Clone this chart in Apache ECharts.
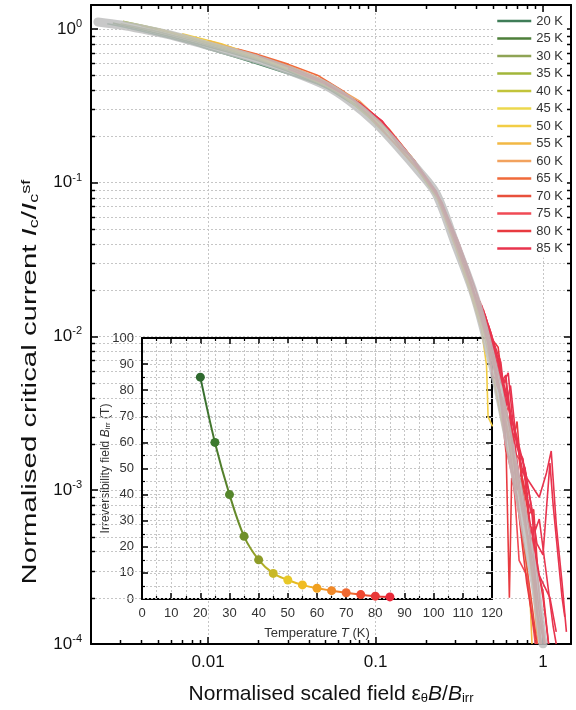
<!DOCTYPE html>
<html><head><meta charset="utf-8">
<script src="https://cdn.jsdelivr.net/npm/echarts@6/dist/echarts.min.js"></script>
<style>html,body{margin:0;padding:0;background:#fff}#c{width:576px;height:710px}</style>
</head><body><div id="c"></div>
<script>
// ---------- data ----------
const tempNames = ['20 K','25 K','30 K','35 K','40 K','45 K','50 K','55 K','60 K','65 K','70 K','75 K','80 K','85 K'];
const tempColors = ['#3f7d58','#4e7f3a','#8fa455','#a2b63a','#c2c43a','#ecd84e','#f2cd45','#f2b845','#f2a25e','#f06a3a','#e8503c','#f04a55','#e83a40','#e8344e'];

const t20 = [[0.0025,1.08],[0.003,1.04],[0.004,0.97],[0.006,0.87],[0.008,0.8],[0.01,0.74],[0.015,0.65],[0.02,0.59],[0.03,0.51],[0.045,0.44],[0.06,0.38],[0.08,0.31]];
const t25 = [[0.0027,1.09],[0.004,0.99],[0.006,0.89],[0.009,0.79],[0.013,0.71],[0.02,0.62],[0.03,0.53],[0.05,0.42],[0.075,0.32],[0.1,0.25]];
const t30 = [[0.003,1.08],[0.005,0.96],[0.008,0.84],[0.012,0.74],[0.02,0.63],[0.03,0.54],[0.05,0.43],[0.08,0.31],[0.12,0.21],[0.15,0.16]];
const t35 = [[0.0031,1.12],[0.005,1.0],[0.008,0.87],[0.012,0.77],[0.02,0.65],[0.03,0.56],[0.05,0.44],[0.08,0.32],[0.12,0.21],[0.17,0.13],[0.22,0.09],[0.27,0.058]];
const t40 = [[0.004,1.05],[0.006,0.94],[0.01,0.8],[0.016,0.69],[0.025,0.59],[0.04,0.48],[0.06,0.39],[0.09,0.27],[0.13,0.18],[0.18,0.12],[0.24,0.075],[0.3,0.04],[0.36,0.022]];
const t45 = [[0.005,1.0],[0.008,0.88],[0.012,0.78],[0.02,0.65],[0.03,0.55],[0.05,0.44],[0.08,0.32],[0.12,0.21],[0.17,0.135],[0.23,0.085],[0.3,0.039],[0.37,0.02],[0.42,0.013]];
const t50 = [[0.007,0.93],[0.012,0.8],[0.02,0.66],[0.03,0.56],[0.05,0.45],[0.08,0.33],[0.12,0.22],[0.17,0.14],[0.23,0.083],[0.3,0.038],[0.37,0.019],[0.43,0.011],[0.46,0.0065],[0.465,0.0045],[0.47,0.003],[0.5,0.0026]];
const t55 = [[0.01,0.84],[0.02,0.67],[0.03,0.57],[0.05,0.45],[0.08,0.33],[0.12,0.22],[0.17,0.14],[0.23,0.085],[0.3,0.039],[0.38,0.019],[0.44,0.011],[0.5,0.0058],[0.56,0.003],[0.63,0.0016],[0.72,0.0007],[0.8,0.00032],[0.84,0.00018],[0.86,0.0001]];
const t60 = [[0.013,0.76],[0.02,0.67],[0.03,0.58],[0.05,0.46],[0.08,0.34],[0.12,0.225],[0.17,0.14],[0.23,0.085],[0.3,0.04],[0.38,0.02],[0.45,0.011],[0.53,0.0052],[0.61,0.0025],[0.7,0.0011],[0.8,0.0005],[0.88,0.00022],[0.93,0.0001]];
const t65 = [[0.015,0.74],[0.02,0.68],[0.03,0.59],[0.045,0.5],[0.065,0.39],[0.09,0.28],[0.13,0.18],[0.18,0.122],[0.23,0.086],[0.3,0.041],[0.38,0.02],[0.45,0.0115],[0.53,0.0055],[0.62,0.0024],[0.72,0.001],[0.82,0.00045],[0.9,0.0002],[0.96,0.0001]];
const t70 = [[0.02,0.67],[0.03,0.57],[0.05,0.45],[0.08,0.33],[0.12,0.22],[0.17,0.14],[0.23,0.088],[0.3,0.043],[0.37,0.023],[0.44,0.0125],[0.51,0.0065],[0.58,0.0035],[0.62,0.0028],[0.7,0.0013],[0.78,0.00065],[0.86,0.0003],[0.93,0.00015],[0.98,0.0001]];
const t75 = [[0.03,0.55],[0.05,0.44],[0.08,0.33],[0.12,0.22],[0.16,0.15],[0.2,0.105],[0.24,0.078],[0.28,0.05],[0.32,0.034],[0.37,0.022],[0.42,0.014],[0.47,0.009],[0.52,0.0068],[0.55,0.0045],[0.6,0.0032],[0.63,0.0036],[0.67,0.0018],[0.72,0.0016],[0.78,0.0008],[0.84,0.0005],[0.9,0.00042],[0.96,0.00018],[1.03,0.0001]];
const t80 = [[0.05,0.44],[0.08,0.33],[0.11,0.25],[0.14,0.17],[0.17,0.14],[0.21,0.1],[0.25,0.074],[0.29,0.048],[0.34,0.03],[0.39,0.019],[0.44,0.013],[0.49,0.0095],[0.53,0.0075],[0.57,0.0048],[0.6,0.0052],[0.65,0.0024],[0.7,0.0021],[0.76,0.0011],[0.82,0.0007],[0.88,0.00075],[0.93,0.0003],[1.0,0.00022],[1.08,0.0001]];
const t85 = [[0.08,0.33],[0.11,0.25],[0.15,0.165],[0.19,0.115],[0.23,0.088],[0.27,0.06],[0.31,0.042],[0.36,0.027],[0.41,0.018],[0.46,0.012],[0.5,0.0088],[0.54,0.0072],[0.58,0.005],[0.62,0.0058],[0.66,0.0028],[0.72,0.0018],[0.78,0.0014],[0.85,0.0008],[0.92,0.00045],[1.0,0.00038],[1.1,0.0015],[1.15,0.0008],[1.3,0.0002],[1.35,0.00015]];
// additional sample orientations at high temperature (same legend entries)
const r75a = [[0.4,0.019],[0.45,0.012],[0.5,0.0075],[0.53,0.0048],[0.58,0.0038],[0.6,0.0019],[0.66,0.0012],[0.7,0.0015],[0.75,0.00075],[0.82,0.00048],[0.86,0.00058],[0.9,0.00024],[0.96,0.0001]];
const r80a = [[0.42,0.017],[0.47,0.011],[0.52,0.0068],[0.55,0.0072],[0.6,0.0034],[0.64,0.0025],[0.7,0.001],[0.74,0.0012],[0.8,0.00055],[0.88,0.0003],[0.92,0.00016],[1.0,0.00011]];
const r85a = [[0.43,0.016],[0.49,0.0105],[0.55,0.0062],[0.6,0.0044],[0.68,0.0023],[0.75,0.0014],[0.82,0.001],[0.9,0.00055],[0.95,0.00065],[1.05,0.00028],[1.15,0.00013],[1.2,0.0001]];
const r85b = [[0.45,0.014],[0.5,0.009],[0.56,0.005],[0.6,0.0056],[0.64,0.0028],[0.68,0.002],[0.72,0.0012],[0.78,0.0014],[0.83,0.00065],[0.9,0.0004],[1.0,0.0002],[1.08,0.0001]];
const r80b = [[0.44,0.015],[0.5,0.0095],[0.54,0.0085],[0.58,0.0045],[0.62,0.0042],[0.66,0.002],[0.7,0.0028],[0.74,0.0013],[0.8,0.0009],[0.85,0.0004],[0.88,0.00035],[0.95,0.00016],[1.02,0.0001]];
const r85c = [[0.47,0.012],[0.52,0.0085],[0.56,0.0068],[0.6,0.0035],[0.64,0.0048],[0.7,0.0019],[0.76,0.0016],[0.8,0.0009],[0.86,0.0007],[0.92,0.0003],[1.1,0.0002],[1.2,0.00012]];
const r75b = [[0.42,0.015],[0.46,0.0105],[0.5,0.0055],[0.54,0.0052],[0.58,0.0026],[0.6,0.0018],[0.64,0.0016],[0.68,0.0009],[0.72,0.00035],[0.8,0.00028],[0.86,0.00015],[0.9,0.0001]];
const r70a = [[0.4,0.018],[0.45,0.0115],[0.5,0.0068],[0.54,0.005],[0.58,0.0033],[0.63,0.0019],[0.68,0.0011],[0.74,0.0006],[0.8,0.00032],[0.86,0.00018],[0.92,0.0001]];
const r85d = [[0.55,0.006],[0.62,0.0035],[0.7,0.0022],[0.8,0.0012],[0.95,0.0009],[1.05,0.0013],[1.12,0.0018],[1.2,0.0006],[1.3,0.00025],[1.38,0.00012]];
const r80c = [[0.5,0.0075],[0.56,0.004],[0.6,0.0022],[0.63,0.0002],[0.65,0.0012],[0.7,0.0009],[0.76,0.0004],[0.8,0.00025],[0.88,0.00013],[0.92,0.0001]];

const master = [[0.0022,1.11],[0.003,1.06],[0.004,1.0],[0.006,0.91],[0.01,0.78],[0.015,0.69],[0.02,0.63],[0.03,0.54],[0.05,0.43],[0.07,0.34],[0.1,0.245],[0.14,0.165],[0.18,0.12],[0.23,0.085],[0.3,0.04],[0.38,0.02],[0.44,0.0115],[0.53,0.005],[0.61,0.0024],[0.7,0.0011],[0.8,0.0005],[0.9,0.00024],[0.97,0.00013],[1.0,0.0001]];

const insetT = [20,25,30,35,40,45,50,55,60,65,70,75,80,85];
const insetB = [85,60,40,24,15,9.8,7.3,5.4,4.1,3.2,2.4,1.7,1.1,0.8];
const insetColors = ['#2f6a2f','#3d7a2e','#55862c','#6f902a','#8e9c28','#c8b828','#e8c828','#f0bc22','#f0a020','#f08828','#f06830','#f04830','#e83838','#e82838'];

const yMinor = [2e-4,3e-4,4e-4,5e-4,6e-4,7e-4,8e-4,9e-4,2e-3,3e-3,4e-3,5e-3,6e-3,7e-3,8e-3,9e-3,0.02,0.03,0.04,0.05,0.06,0.07,0.08,0.09,0.2,0.3,0.4,0.5,0.6,0.7,0.8,0.9];
const xMinor = [0.003,0.004,0.005,0.006,0.007,0.008,0.009,0.02,0.03,0.04,0.05,0.06,0.07,0.08,0.09,0.2,0.3,0.4,0.5,0.6,0.7,0.8,0.9];
const xTickText = {'-2': '0.01', '-1': '0.1', '0': '1'};

// ---------- chart ----------
const FONT = '"Liberation Sans", Arial, sans-serif';
const chart = echarts.init(document.getElementById('c'), null, {renderer: 'canvas'});

const isPow10 = v => Math.abs(Math.log10(v) - Math.round(Math.log10(v))) < 1e-6;
const dotted = {color: '#c6c6c6', width: 1, type: [2, 2]};

function minorRender(params, api) {
  const cs = params.coordSys;
  const kind = api.value(2);
  const ch = [];
  const gs = {stroke: '#c6c6c6', lineWidth: 1, lineDash: [2, 2]};
  const ts = {stroke: '#000', lineWidth: 1.5};
  if (kind === 0) {
    const y = Math.round(api.coord([1, api.value(1)])[1]) + 0.5;
    ch.push({type: 'line', shape: {x1: cs.x, y1: y, x2: cs.x + cs.width, y2: y}, style: gs});
    ch.push({type: 'line', shape: {x1: cs.x, y1: y, x2: cs.x + 4, y2: y}, style: ts});
    ch.push({type: 'line', shape: {x1: cs.x + cs.width - 4, y1: y, x2: cs.x + cs.width, y2: y}, style: ts});
  } else {
    const x = Math.round(api.coord([api.value(0), 1])[0]) + 0.5;
    ch.push({type: 'line', shape: {x1: x, y1: cs.y + cs.height, x2: x, y2: cs.y + cs.height - 4}, style: ts});
    ch.push({type: 'line', shape: {x1: x, y1: cs.y, x2: x, y2: cs.y + 4}, style: ts});
  }
  return {type: 'group', children: ch};
}

const allT = [t20,t25,t30,t35,t40,t45,t50,t55,t60,t65,t70,t75,t80,t85];
const extra = [[r70a,10],[r75a,11],[r75b,11],[r80a,12],[r80b,12],[r80c,12],[r85a,13],[r85b,13],[r85c,13],[r85d,13]];
const series = [];
series.push({
  type: 'custom', xAxisIndex: 0, yAxisIndex: 0, silent: true, z: 1,
  renderItem: minorRender, clip: false,
  data: yMinor.map(v => [1, v, 0]).concat(xMinor.map(v => [v, 0.01, 1]))
});
const addLine = (d, i) => series.push({type: 'line', name: tempNames[i], xAxisIndex: 0, yAxisIndex: 0, data: d, symbol: 'none',
  clip: true, z: 2, lineStyle: {width: 1.6, color: tempColors[i]}, itemStyle: {color: tempColors[i]}});
allT.forEach((d, i) => addLine(d, i));
extra.forEach(([d, i]) => addLine(d, i));
series.push({type: 'line', name: 'master', xAxisIndex: 0, yAxisIndex: 0, data: master, symbol: 'none', smooth: 0.3,
  clip: true, z: 3, lineStyle: {width: 9, color: 'rgba(190,190,190,0.85)', cap: 'round'}});
series.push({type: 'line', name: 'Birr', xAxisIndex: 2, yAxisIndex: 2, z: 4,
  data: insetT.map((t, i) => ({value: [t, insetB[i]], itemStyle: {color: insetColors[i]}})),
  smooth: 0.35, symbol: 'circle', symbolSize: 9,
  lineStyle: {width: 2, color: new echarts.graphic.LinearGradient(0, 0, 1, 0, [
    {offset: 0, color: insetColors[0]}, {offset: 0.23, color: insetColors[3]}, {offset: 0.38, color: insetColors[5]},
    {offset: 0.54, color: insetColors[7]}, {offset: 0.69, color: insetColors[9]}, {offset: 1, color: insetColors[13]}])}
});

const mainX = {type: 'log', logBase: 10, min: 0.002, max: 1.47, gridIndex: 0};
const mainY = {type: 'log', logBase: 10, min: 1e-4, max: 1.43, gridIndex: 0};
const axLine = {show: true, onZero: false, lineStyle: {color: '#000', width: 2}};
const majTick = {show: true, inside: true, length: 7, lineStyle: {color: '#000', width: 1.5}};
const inTick = {show: true, inside: true, length: 6, lineStyle: {color: '#000', width: 1.5}};
const inMinor = {show: true, splitNumber: 2, length: 3, lineStyle: {color: '#000', width: 1.2}};

const option = {
  backgroundColor: '#fff',
  animation: false,
  textStyle: {fontFamily: FONT},
  grid: [
    {left: 91, top: 5, width: 480, height: 641},
    {left: 142, top: 338, width: 350, height: 261}
  ],
  legend: {
    data: tempNames, orient: 'vertical', left: 494, top: 12, itemWidth: 34, itemHeight: 12, itemGap: 3.5,
    backgroundColor: '#fff', padding: [2, 4, 2, 2], itemStyle: {opacity: 0},
    lineStyle: {width: 2.5},
    textStyle: {fontSize: 13, color: '#333', fontFamily: FONT, lineHeight: 14}
  },
  graphic: [{
    type: 'text', silent: true,
    x: 30, y: 382, rotation: Math.PI / 2, scaleX: 1.4,
    style: {
      text: '{a|Normalised critical current }{i|I}{s|c}{a|/}{i|I}{s|c}{p|sf}',
      align: 'center', verticalAlign: 'middle', fill: '#111',
      rich: {
        a: {fontSize: 21, fill: '#111', fontFamily: FONT},
        i: {fontSize: 21, fill: '#111', fontStyle: 'italic', fontFamily: FONT},
        s: {fontSize: 13, fill: '#111', fontFamily: FONT, verticalAlign: 'bottom', padding: [8, 0, 0, 0]},
        p: {fontSize: 13, fill: '#111', fontFamily: FONT, verticalAlign: 'top', padding: [0, 0, 8, 0]}
      }
    }
  }],
  xAxis: [
    Object.assign({}, mainX, {position: 'bottom', axisLine: axLine, axisTick: majTick,
      splitLine: {show: true, lineStyle: dotted},
      axisLabel: {fontSize: 17, color: '#111', margin: 10, formatter: v => isPow10(v) ? (xTickText[String(Math.round(Math.log10(v)))] || '') : ''},
      name: '{a|Normalised scaled field ε}{s|θ}{i|B}{a|/}{i|B}{s|irr}', nameLocation: 'middle', nameGap: 40,
      nameTextStyle: {rich: {
        a: {fontSize: 21, color: '#111', fontFamily: FONT},
        i: {fontSize: 21, color: '#111', fontStyle: 'italic', fontFamily: FONT},
        s: {fontSize: 13, color: '#111', fontFamily: FONT, verticalAlign: 'bottom', padding: [8, 0, 0, 0]}
      }}
    }),
    Object.assign({}, mainX, {position: 'top', axisLine: axLine, axisTick: majTick, axisLabel: {show: false}, splitLine: {show: false}}),
    {type: 'value', gridIndex: 1, min: 0, max: 120, interval: 10, position: 'bottom',
      axisLine: axLine, axisTick: inTick, minorTick: inMinor,
      splitLine: {show: true, lineStyle: dotted}, minorSplitLine: {show: true, lineStyle: dotted},
      axisLabel: {fontSize: 13, color: '#333', margin: 8},
      name: 'Temperature {i|T} (K)', nameLocation: 'middle', nameGap: 28,
      nameTextStyle: {fontSize: 13, color: '#333', rich: {i: {fontSize: 13, fontStyle: 'italic', color: '#333'}}}
    },
    {type: 'value', gridIndex: 1, min: 0, max: 120, interval: 10, position: 'top',
      axisLine: axLine, axisTick: inTick, minorTick: inMinor,
      axisLabel: {show: false}, splitLine: {show: false}}
  ],
  yAxis: [
    Object.assign({}, mainY, {position: 'left', axisLine: axLine, axisTick: majTick,
      splitLine: {show: true, lineStyle: dotted},
      axisLabel: {margin: 9, formatter: v => isPow10(v) ? '{b|10}{s|' + Math.round(Math.log10(v)) + '}' : '',
        rich: {b: {fontSize: 17, color: '#111', fontFamily: FONT}, s: {fontSize: 11, color: '#111', fontFamily: FONT, verticalAlign: 'top', padding: [0, 0, 10, 0]}}}
    }),
    Object.assign({}, mainY, {position: 'right', axisLine: axLine, axisTick: majTick, axisLabel: {show: false}, splitLine: {show: false}}),
    {type: 'value', gridIndex: 1, min: 0, max: 100, interval: 10, position: 'left',
      axisLine: axLine, axisTick: inTick, minorTick: inMinor,
      splitLine: {show: true, lineStyle: dotted}, minorSplitLine: {show: true, lineStyle: dotted},
      axisLabel: {fontSize: 13, color: '#333', margin: 8},
      name: '{a|Irreversibility field }{i|B}{s|irr}{a| (T)}', nameLocation: 'middle', nameGap: 30, nameMoveOverlap: false,
      nameTextStyle: {rich: {
        a: {fontSize: 12, color: '#333'}, i: {fontSize: 12, color: '#333', fontStyle: 'italic'},
        s: {fontSize: 8, color: '#333', verticalAlign: 'bottom', padding: [5, 0, 0, 0]}}}
    },
    {type: 'value', gridIndex: 1, min: 0, max: 100, interval: 10, position: 'right',
      axisLine: axLine, axisTick: inTick, minorTick: inMinor,
      axisLabel: {show: false}, splitLine: {show: false}}
  ],
  series: series
};
chart.setOption(option);
</script>
</body></html>
